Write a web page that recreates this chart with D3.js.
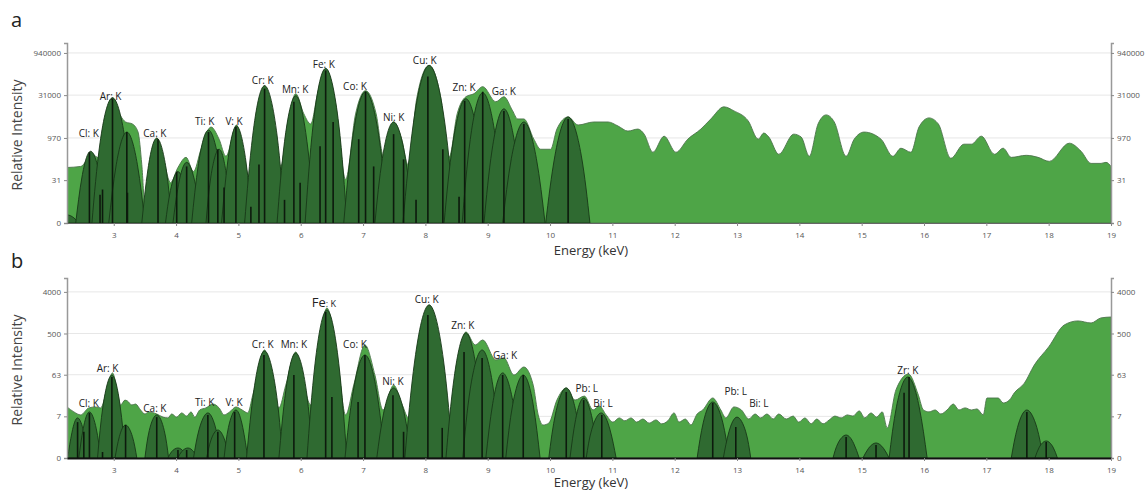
<!DOCTYPE html>
<html>
<head>
<meta charset="utf-8">
<script src="https://cdn.jsdelivr.net/npm/d3@7"></script>
<style>
  body { margin: 0; background: #fff; }
  text { font-family: "Open Sans", "Noto Sans", sans-serif; }
</style>
</head>
<body>
<script>
// energy axis
var energyTicks = d3.range(3, 20);

// y tick labels of each panel
var tickLabelsA = [0, 31, 970, 31000, 940000];
var tickLabelsB = [0, 7, 63, 500, 4000];

// panel a: total spectrum [keV, intensity]
var spectrumA = [[2.25,88],[2.47,96],[2.57,171],[2.63,304],[2.74,201],[2.86,1990],[2.98,25100],[3.11,5770],[3.19,3530],[3.30,3000],[3.39,1560],[3.45,113],[3.50,3.4],[3.59,171],[3.69,954],[3.80,171],[3.91,25],[4.03,88],[4.16,201],[4.28,63],[4.40,388],[4.56,2350],[4.69,880],[4.80,219],[4.97,2770],[5.07,388],[5.17,42],[5.28,1990],[5.42,66800],[5.55,4510],[5.68,96],[5.79,3000],[5.92,34800],[6.05,6790],[6.16,3000],[6.27,34800],[6.40,268000],[6.56,15400],[6.72,33],[6.88,6790],[7.04,44500],[7.21,6790],[7.33,219],[7.49,3530],[7.62,880],[7.72,113],[7.86,23100],[8.06,343000],[8.25,23100],[8.38,201],[8.51,6790],[8.65,27200],[8.78,34800],[8.92,61600],[9.13,18100],[9.26,27200],[9.40,8670],[9.48,4510],[9.58,4510],[9.74,880],[9.85,388],[10.01,388],[10.11,1990],[10.29,5310],[10.45,2770],[10.70,3530],[10.93,3530],[11.09,2550],[11.25,1690],[11.41,1990],[11.51,1320],[11.65,304],[11.83,1120],[12.02,304],[12.21,880],[12.42,1990],[12.58,4510],[12.79,12000],[12.95,8670],[13.18,3830],[13.34,880],[13.43,1440],[13.51,1040],[13.67,258],[13.91,1320],[14.03,1040],[14.16,219],[14.30,3000],[14.43,6250],[14.56,3530],[14.75,219],[14.88,880],[15.04,1560],[15.31,880],[15.50,219],[15.63,422],[15.79,304],[15.92,2350],[16.08,4900],[16.23,3000],[16.43,186],[16.64,585],[16.76,585],[16.92,1120],[17.13,258],[17.27,422],[17.40,201],[17.64,237],[17.83,201],[18.01,145],[18.33,634],[18.52,330],[18.68,123],[18.84,123],[18.92,134],[19.00,96]];

// panel a: fitted element peaks
var peaksA = [
  [[2.05,0],[2.13,0.52],[2.25,0.92],[2.36,0.52],[2.44,0]],
  [[2.39,0],[2.49,40],[2.63,330],[2.78,40],[2.87,0]],
  [[2.65,0],[2.78,655],[2.98,25100],[3.19,655],[3.32,0]],
  [[2.92,0],[3.04,110],[3.21,1560],[3.38,110],[3.50,0]],
  [[3.45,0],[3.55,80],[3.69,954],[3.84,80],[3.93,0]],
  [[3.83,0],[3.91,13],[4.03,63],[4.14,13],[4.22,0]],
  [[3.95,0],[4.04,22],[4.17,134],[4.31,22],[4.40,0]],
  [[4.25,0],[4.36,122],[4.52,1840],[4.69,122],[4.80,0]],
  [[4.48,0],[4.56,44],[4.69,388],[4.81,44],[4.89,0]],
  [[4.73,0],[4.83,150],[4.97,2550],[5.12,150],[5.22,0]],
  [[5.10,0],[5.15,1.6],[5.23,3.4],[5.31,1.6],[5.36,0]],
  [[5.10,0],[5.23,1220],[5.42,66800],[5.62,1220],[5.74,0]],
  [[5.62,0],[5.74,725],[5.92,29500],[6.10,725],[6.23,0]],
  [[6.07,0],[6.20,2980],[6.40,268000],[6.61,2980],[6.74,0]],
  [[6.69,0],[6.83,895],[7.04,40900],[7.26,895],[7.40,0]],
  [[7.19,0],[7.31,186],[7.49,3530],[7.68,186],[7.80,0]],
  [[7.64,0],[7.81,3480],[8.06,343000],[8.31,3480],[8.47,0]],
  [[8.30,0],[8.44,620],[8.65,23100],[8.86,620],[9.00,0]],
  [[8.59,0],[8.72,850],[8.92,37700],[9.13,850],[9.26,0]],
  [[8.94,0],[9.07,367],[9.26,10200],[9.45,367],[9.58,0]],
  [[9.24,0],[9.38,186],[9.58,3530],[9.78,186],[9.92,0]],
  [[9.93,0],[10.08,241],[10.29,5310],[10.50,241],[10.64,0]]
];

// panel a: emission lines [keV, intensity]
var linesA = [[2.61,304],[2.78,8.8],[2.82,14],[2.98,23100],[3.21,1560],[3.22,10.6],[3.71,880],[4.01,63],[4.17,96],[4.52,1560],[4.67,388],[4.77,16.5],[4.96,2350],[5.20,2.7],[5.33,113],[5.42,52300],[5.74,5.5],[5.89,18100],[5.99,25],[6.31,496],[6.40,228000],[6.52,3530],[6.93,880],[7.04,40900],[7.17,96],[7.49,1320],[7.65,171],[7.85,5.5],[8.04,140000],[8.28,388],[8.54,7.4],[8.63,19600],[8.92,40900],[9.26,8670],[9.58,3000],[10.29,4510]];

// panel a: peak labels [text, keV, intensity at baseline]
var labelsA = [["Cl: K",2.60,1040],["Ar: K",2.95,21300],["Ca: K",3.66,1040],["Ti: K",4.46,2770],["V: K",4.93,2770],["Cr: K",5.39,78700],["Mn: K",5.91,37700],["Fe: K",6.37,268000],["Co: K",6.87,48200],["Ni: K",7.49,3830],["Cu: K",7.99,372000],["Zn: K",8.62,44500],["Ga: K",9.26,32000]];

// panel b: total spectrum
var spectrumB = [[2.25,11.8],[2.36,9.0],[2.47,7.6],[2.60,11.2],[2.71,11.8],[2.79,11.2],[2.89,29],[2.98,69],[3.06,26],[3.11,13.1],[3.18,17],[3.22,16.2],[3.29,13.1],[3.35,13.8],[3.43,10],[3.50,8.0],[3.56,9.0],[3.69,8.0],[3.79,6.7],[3.87,6.4],[3.93,8.0],[4.01,6.7],[4.09,8.5],[4.17,7.1],[4.24,9.0],[4.30,6.7],[4.38,10],[4.48,11.2],[4.59,13.8],[4.69,11.2],[4.77,7.6],[4.86,9.0],[4.96,11.8],[5.06,10],[5.15,8.5],[5.23,22],[5.42,219],[5.55,37],[5.65,11.2],[5.76,37],[5.92,198],[6.05,37],[6.16,13.1],[6.26,103],[6.42,1790],[6.59,133],[6.72,7.6],[6.85,37],[7.03,282],[7.19,62],[7.32,10],[7.49,37],[7.63,13.1],[7.73,6.4],[7.86,133],[8.06,2080],[8.25,198],[8.38,6.4],[8.49,62],[8.65,540],[8.80,282],[8.92,362],[9.13,133],[9.26,147],[9.42,62],[9.58,93],[9.73,37],[9.81,7.6],[9.89,4.2],[9.98,4.7],[10.11,17],[10.26,32],[10.40,17],[10.55,21],[10.69,10],[10.79,12.4],[10.90,7.6],[11.01,5.0],[11.11,6.4],[11.20,5.4],[11.30,6.4],[11.39,5.0],[11.49,6.0],[11.59,4.7],[11.70,5.7],[11.79,4.5],[11.89,5.4],[11.99,8.5],[12.07,5.0],[12.17,6.0],[12.26,4.2],[12.36,8.0],[12.45,10],[12.61,19],[12.74,10],[12.82,6.4],[12.95,11.8],[13.07,10],[13.19,6.0],[13.29,8.0],[13.38,6.4],[13.48,8.0],[13.58,6.0],[13.67,8.0],[13.79,6.0],[13.90,7.1],[13.99,5.0],[14.09,6.4],[14.19,4.5],[14.28,6.0],[14.38,4.5],[14.48,5.7],[14.57,7.1],[14.67,6.4],[14.77,7.6],[14.86,7.1],[14.96,9.5],[15.05,6.4],[15.15,8.5],[15.24,6.7],[15.33,9.0],[15.41,3.5],[15.55,29],[15.75,65],[15.91,22],[15.99,10],[16.08,9.0],[16.18,10],[16.27,8.0],[16.37,10],[16.47,13.8],[16.56,10],[16.66,11.2],[16.76,10],[16.85,10.6],[16.95,7.6],[17.01,19],[17.19,19],[17.27,14.6],[17.37,17],[17.45,25],[17.61,41],[17.77,103],[18.00,255],[18.25,766],[18.47,937],[18.68,846],[18.84,1090],[19.00,1140]];

// panel b: fitted element peaks
var peaksB = [
  [[2.26,0],[2.33,2.6],[2.42,6.4],[2.52,2.6],[2.58,0]],
  [[2.44,0],[2.51,3.3],[2.61,9.0],[2.72,3.3],[2.79,0]],
  [[2.74,0],[2.83,13.2],[2.97,62],[3.10,13.2],[3.19,0]],
  [[3.02,0],[3.09,1.9],[3.19,4.2],[3.30,1.9],[3.37,0]],
  [[3.50,0],[3.57,2.95],[3.69,7.6],[3.81,2.95],[3.88,0]],
  [[3.87,0],[3.93,0.38],[4.03,0.65],[4.12,0.38],[4.19,0]],
  [[4.03,0],[4.09,0.38],[4.19,0.65],[4.28,0.38],[4.35,0]],
  [[4.28,0],[4.37,3.2],[4.51,8.5],[4.64,3.2],[4.73,0]],
  [[4.49,0],[4.56,1.45],[4.67,3.05],[4.78,1.45],[4.85,0]],
  [[4.77,0],[4.84,3.6],[4.96,10],[5.07,3.6],[5.15,0]],
  [[5.13,0],[5.25,29.6],[5.42,208],[5.60,29.6],[5.71,0]],
  [[5.65,0],[5.76,27.7],[5.92,188],[6.09,27.7],[6.19,0]],
  [[6.10,0],[6.23,112],[6.42,1620],[6.61,112],[6.74,0]],
  [[6.71,0],[6.84,26],[7.03,170],[7.22,26],[7.35,0]],
  [[7.22,0],[7.33,8.4],[7.49,32],[7.66,8.4],[7.77,0]],
  [[7.67,0],[7.83,132],[8.06,2080],[8.29,132],[8.44,0]],
  [[8.33,0],[8.46,53],[8.65,513],[8.84,53],[8.97,0]],
  [[8.60,0],[8.72,30.5],[8.91,219],[9.09,30.5],[9.21,0]],
  [[8.97,0],[9.08,14.1],[9.24,69],[9.41,14.1],[9.52,0]],
  [[9.29,0],[9.40,13.2],[9.57,62],[9.73,13.2],[9.84,0]],
  [[9.98,0],[10.09,8.4],[10.26,32],[10.42,8.4],[10.53,0]],
  [[10.32,0],[10.41,5.8],[10.54,19],[10.68,5.8],[10.77,0]],
  [[10.58,0],[10.67,3.2],[10.82,8.5],[10.96,3.2],[11.06,0]],
  [[12.36,0],[12.46,5.0],[12.61,15.4],[12.77,5.0],[12.87,0]],
  [[12.78,0],[12.87,2.7],[13.00,6.7],[13.14,2.7],[13.22,0]],
  [[14.54,0],[14.62,1.09],[14.75,2.15],[14.87,1.09],[14.96,0]],
  [[15.02,0],[15.11,0.62],[15.23,1.12],[15.35,0.62],[15.44,0]],
  [[15.44,0],[15.56,12.3],[15.74,56],[15.92,12.3],[16.05,0]],
  [[17.40,0],[17.50,3.6],[17.65,10],[17.81,3.6],[17.91,0]],
  [[17.78,0],[17.85,0.72],[17.96,1.34],[18.07,0.72],[18.14,0]]
];

var linesB = [[2.42,5.0],[2.52,2.7],[2.61,8.5],[2.82,0.35],[2.97,56],[3.19,4.2],[3.69,6.7],[4.03,0.49],[4.17,0.49],[4.51,7.6],[4.67,2.7],[4.94,9.0],[5.41,170],[5.89,62],[6.40,1470],[6.50,20],[6.92,15.4],[7.03,170],[7.48,22],[7.65,2.7],[8.04,1260],[8.27,3.5],[8.62,198],[8.91,147],[9.24,62],[9.57,62],[10.26,26],[10.54,17],[10.83,7.6],[12.61,14.6],[12.98,3.7],[14.75,1.85],[15.23,0.91],[15.68,25],[15.76,56],[17.65,9.0],[17.96,1.22]];

var labelsB = [["Cl: K",2.60,11.8],["Ar: K",2.90,72],["Ca: K",3.66,9.0],["Ti: K",4.46,12.4],["V: K",4.93,12.4],["Cr: K",5.39,242],["Mn: K",5.89,242],["Fe: K",6.37,1880],["Co: K",6.87,242],["Ni: K",7.48,37],["Cu: K",8.02,2300],["Zn: K",8.60,627],["Ga: K",9.28,139],["Pb: L",10.59,26],["Bi: L",10.85,11.8],["Pb: L",12.98,22],["Bi: L",13.35,11.8],["Zr: K",15.74,65]];

var width = 1145, height = 492;
var left = 67, right = 1111;

var svg = d3.select("body").append("svg")
  .attr("width", width)
  .attr("height", height);

var x = d3.scaleLinear().domain([2.25, 19]).range([left, right]);

function drawPanel(p) {
  var y = d3.scaleSymlog().constant(1).domain([0, p.yMax]).range([p.bottom, p.top]);
  var g = svg.append("g");

  g.append("clipPath").attr("id", "clip" + p.id)
    .append("rect")
    .attr("x", left).attr("y", p.top)
    .attr("width", right - left).attr("height", p.bottom - p.top);

  // grid
  g.selectAll(".grid")
    .data(p.ticks.filter(function (d) { return d > 0; }))
    .enter().append("line")
    .attr("x1", left).attr("x2", right)
    .attr("y1", function (d) { return y(d); })
    .attr("y2", function (d) { return y(d); })
    .attr("stroke", "#e7e7e7").attr("stroke-width", 1);

  var plot = g.append("g").attr("clip-path", "url(#clip" + p.id + ")");

  var area = d3.area()
    .x(function (d) { return x(d[0]); })
    .y0(y(0))
    .y1(function (d) { return y(d[1]); });

  plot.append("path")
    .datum(p.spectrum)
    .attr("d", area.curve(d3.curveMonotoneX))
    .attr("fill", "#4ea547")
    .attr("stroke", "#4b7449")
    .attr("stroke-width", 0.9);

  var peakArea = d3.area()
    .x(function (d) { return x(d[0]); })
    .y0(y(0))
    .y1(function (d) { return y(d[1]); })
    .curve(d3.curveNatural);

  plot.selectAll(".peak")
    .data(p.peaks)
    .enter().append("path")
    .attr("d", peakArea)
    .attr("fill", "#2f6a31")
    .attr("stroke", "#173817")
    .attr("stroke-width", 0.9);

  plot.selectAll(".line")
    .data(p.lines)
    .enter().append("line")
    .attr("x1", function (d) { return x(d[0]); })
    .attr("x2", function (d) { return x(d[0]); })
    .attr("y1", y(0))
    .attr("y2", function (d) { return y(d[1]); })
    .attr("stroke", "#0d1a0d")
    .attr("stroke-width", 1.6);

  // axes
  var yLeft = g.append("g")
    .attr("transform", "translate(" + left + ",0)")
    .call(d3.axisLeft(y).tickValues(p.ticks).tickSize(3).tickFormat(function (d) { return d; }));
  var yRight = g.append("g")
    .attr("transform", "translate(" + right + ",0)")
    .call(d3.axisRight(y).tickValues(p.ticks).tickSize(3).tickFormat(function (d) { return d; }));
  var xAxis = g.append("g")
    .attr("transform", "translate(0," + p.bottom + ")")
    .call(d3.axisBottom(x).tickValues(energyTicks).tickSize(3).tickSizeOuter(0).tickPadding(6));

  [yLeft, yRight, xAxis].forEach(function (a) {
    a.selectAll("text").attr("font-size", 8).attr("fill", "#555")
      .attr("font-family", "'Open Sans', sans-serif");
    a.selectAll(".tick line").attr("stroke", "#888");
  });
  yLeft.select(".domain").attr("stroke", "#999").attr("stroke-width", 1.5);
  yRight.select(".domain").attr("stroke", "#999").attr("stroke-width", 1.5);
  xAxis.select(".domain").attr("stroke", p.baseColor).attr("stroke-width", p.baseWidth);

  // peak labels
  g.selectAll(".label")
    .data(p.labels)
    .enter().append("text")
    .attr("x", function (d) { return x(d[1]); })
    .attr("y", function (d) { return y(d[2]); })
    .attr("text-anchor", "middle")
    .attr("font-size", 10)
    .attr("fill", "#222")
    .each(function (d) {
      var t = d3.select(this);
      if (p.bigFe && d[0] === "Fe: K") {
        t.append("tspan").attr("font-size", 13).text("Fe");
        t.append("tspan").attr("font-size", 9).text(": K");
      } else {
        t.text(d[0]);
      }
    });

  g.append("text")
    .attr("x", 591).attr("y", p.bottom + p.titleOffset)
    .attr("text-anchor", "middle")
    .attr("font-size", 13).attr("fill", "#333")
    .text("Energy (keV)");

  g.append("text")
    .attr("transform", "translate(22," + ((p.top + p.bottom) / 2 + 2) + ") rotate(-90)")
    .attr("text-anchor", "middle")
    .attr("font-size", 14).attr("fill", "#444")
    .text("Relative Intensity");

  g.append("text")
    .attr("x", 11).attr("y", p.letterY)
    .attr("font-size", 20).attr("fill", "#222")
    .text(p.letter);
}

drawPanel({ id: "a", letter: "a", letterY: 27, top: 43, bottom: 223, yMax: 2100000, ticks: tickLabelsA,
  spectrum: spectrumA, peaks: peaksA, lines: linesA, labels: labelsA, titleOffset: 32,
  baseColor: "#666", baseWidth: 1, bigFe: false });

drawPanel({ id: "b", letter: "b", letterY: 268, top: 278, bottom: 458, yMax: 8000, ticks: tickLabelsB,
  spectrum: spectrumB, peaks: peaksB, lines: linesB, labels: labelsB, titleOffset: 29,
  baseColor: "#111", baseWidth: 2, bigFe: true });
</script>
</body>
</html>
